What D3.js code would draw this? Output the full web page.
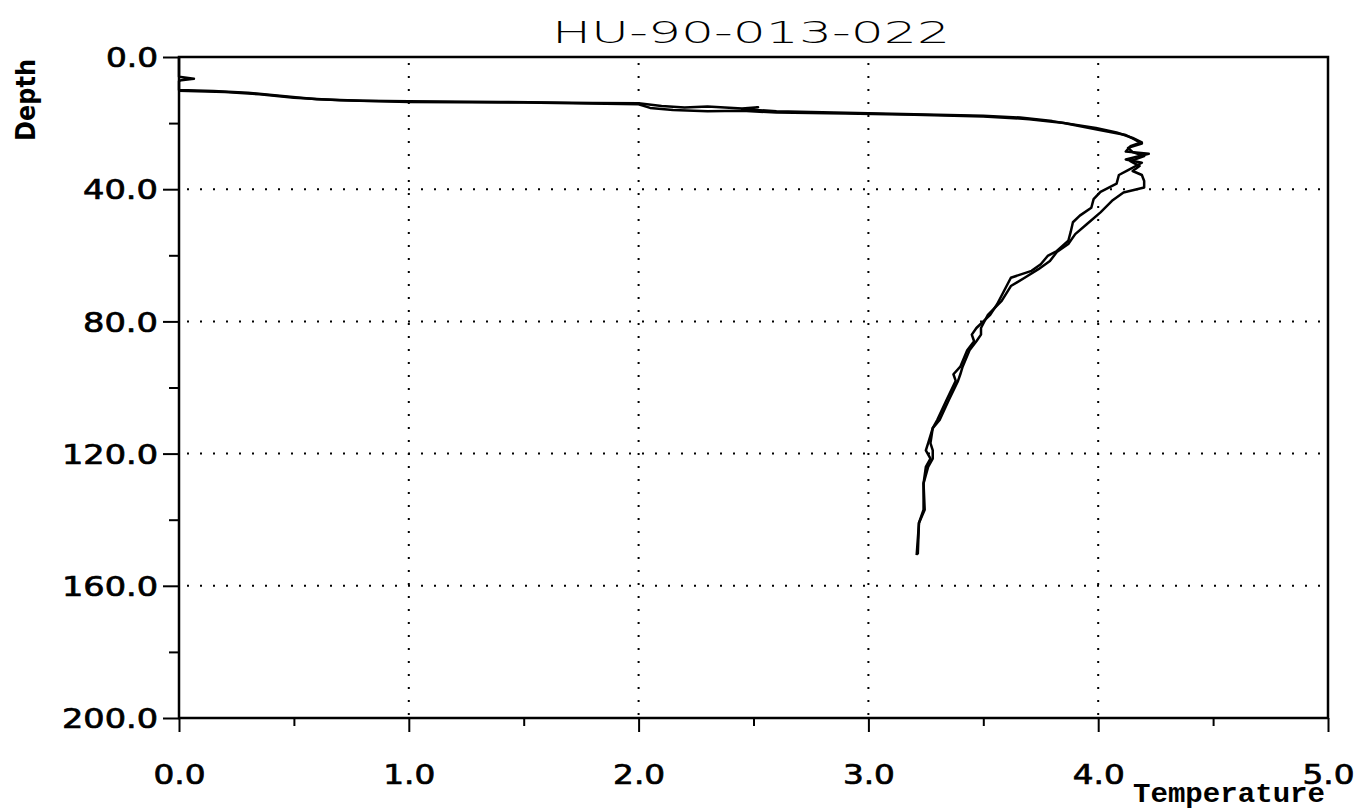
<!DOCTYPE html>
<html>
<head>
<meta charset="utf-8">
<script src="https://cdnjs.cloudflare.com/ajax/libs/d3/7.8.5/d3.min.js"></script>
<style>
    body { margin: 0; background: #fff; }
    svg { display: block; }
</style>
</head>
<body>
<svg id="canvas"></svg>
<script>
"use strict";

const title = "HU-90-013-022";

// Cast 1 (the one with the near-surface blip, left branch below 35 m)
const tempCast1 = [0, 0, 0.065, 0.01, 0, 0, 0.15, 0.3, 0.45, 0.6, 0.8, 1.0, 1.4, 1.8, 2.0, 2.1, 2.2, 2.3, 2.45, 2.52, 2.45, 2.6, 2.9, 3.2, 3.5, 3.66, 3.8, 3.99, 4.08, 4.15, 4.19, 4.14, 4.12, 4.22, 4.12, 4.19, 4.13, 4.09, 4.08, 4.01, 3.98, 3.97, 3.92, 3.89, 3.88, 3.87, 3.82, 3.78, 3.75, 3.71, 3.62, 3.59, 3.56, 3.53, 3.47, 3.45, 3.46, 3.43, 3.40, 3.37, 3.38, 3.34, 3.30, 3.28, 3.26, 3.25, 3.27, 3.25, 3.24, 3.24, 3.22, 3.21];
const depthCast1 = [0, 6, 6.6, 7.0, 7.3, 10, 10.3, 10.8, 11.8, 12.8, 13.2, 13.4, 13.6, 13.9, 14.0, 14.8, 15.3, 15.0, 15.6, 15.2, 15.8, 16.4, 16.9, 17.3, 17.8, 18.3, 19.4, 21.5, 22.8, 24.5, 25.8, 27, 28.6, 29.3, 31, 32, 34.2, 35.7, 38.3, 40.8, 43, 45.6, 48, 50, 53, 55.6, 58.7, 60.2, 62.7, 64.7, 66.8, 70.8, 74.8, 78, 82, 84, 86, 88.7, 93.7, 96, 98, 103.8, 109.8, 112.3, 116.8, 119, 121.5, 124, 129, 137, 141, 150.7];

// Cast 2 (right branch below 35 m)
const tempCast2 = [0, 0.2, 0.35, 0.5, 0.7, 1.0, 1.5, 2.0, 2.05, 2.15, 2.3, 2.45, 2.6, 2.9, 3.2, 3.5, 3.7, 3.85, 4.0, 4.12, 4.16, 4.19, 4.13, 4.15, 4.2, 4.14, 4.18, 4.15, 4.19, 4.2, 4.2, 4.11, 4.06, 4.01, 3.95, 3.90, 3.87, 3.82, 3.79, 3.74, 3.68, 3.62, 3.58, 3.52, 3.49, 3.49, 3.47, 3.44, 3.41, 3.40, 3.39, 3.35, 3.31, 3.28, 3.27, 3.28, 3.28, 3.26, 3.24, 3.245, 3.22, 3.215];
const depthCast2 = [10.2, 10.6, 11.3, 12.3, 13.1, 13.6, 13.8, 14.3, 15.4, 16.0, 16.4, 16.3, 16.8, 17.1, 17.5, 18.0, 18.8, 20, 22, 23.6, 25, 26.2, 27.5, 28.8, 30, 31.5, 33, 34.5, 35.7, 37.5, 39.5, 41, 43.5, 47, 50.6, 53.6, 56.6, 59, 61.7, 64.2, 66.8, 69.3, 73.8, 78, 82, 84, 86, 88.7, 93.7, 96, 98, 103.8, 109.8, 112.3, 116.8, 119, 121.5, 124, 129, 137, 141, 150.5];

const xMajorTicks = [0, 1, 2, 3, 4, 5];
const xMinorTicks = [0.5, 1.5, 2.5, 3.5, 4.5];
const yMajorTicks = [0, 40, 80, 120, 160, 200];
const yMinorTicks = [20, 60, 100, 140, 180];

const width = 1367;
const height = 812;
const plotLeft = 179, plotRight = 1328, plotTop = 57, plotBottom = 718;

const canvas = d3.select('#canvas')
    .attr('width', width)
    .attr('height', height);

const xScale = d3.scaleLinear().domain([0, 5]).range([plotLeft, plotRight]);
const yScale = d3.scaleLinear().domain([0, 200]).range([plotTop, plotBottom]);

// Dotted grid
canvas.selectAll('.vgrid')
    .data(xMajorTicks.slice(1, -1))
    .enter()
    .append('line')
    .attr('x1', (d) => xScale(d))
    .attr('x2', (d) => xScale(d))
    .attr('y1', plotTop + 6)
    .attr('y2', plotBottom)
    .attr('stroke', '#000')
    .attr('stroke-width', 2)
    .attr('stroke-dasharray', '2,11');

canvas.selectAll('.hgrid')
    .data(yMajorTicks.slice(1, -1))
    .enter()
    .append('line')
    .attr('x1', plotLeft + 8)
    .attr('x2', plotRight)
    .attr('y1', (d) => yScale(d))
    .attr('y2', (d) => yScale(d))
    .attr('stroke', '#000')
    .attr('stroke-width', 2)
    .attr('stroke-dasharray', '2,11');

// Frame
canvas.append('rect')
    .attr('x', plotLeft)
    .attr('y', plotTop)
    .attr('width', plotRight - plotLeft)
    .attr('height', plotBottom - plotTop)
    .attr('fill', 'none')
    .attr('stroke', '#000')
    .attr('stroke-width', 2.5);

// Axes: ticks outward
const xAxis = d3.axisBottom(xScale)
    .tickValues(xMajorTicks)
    .tickSize(14)
    .tickFormat(d3.format('.1f'));

const gx = canvas.append('g')
    .attr('transform', `translate(0, ${plotBottom})`)
    .call(xAxis);

canvas.append('g')
    .attr('transform', `translate(0, ${plotBottom})`)
    .call(d3.axisBottom(xScale).tickValues(xMinorTicks).tickSize(8).tickFormat(''))
    .call((g) => g.select('.domain').remove())
    .selectAll('line').attr('stroke-width', 2);

const yAxis = d3.axisLeft(yScale)
    .tickValues(yMajorTicks)
    .tickSize(16)
    .tickFormat(d3.format('.1f'));

const gy = canvas.append('g')
    .attr('transform', `translate(${plotLeft}, 0)`)
    .call(yAxis);

canvas.append('g')
    .attr('transform', `translate(${plotLeft}, 0)`)
    .call(d3.axisLeft(yScale).tickValues(yMinorTicks).tickSize(10).tickFormat(''))
    .call((g) => g.select('.domain').remove())
    .selectAll('line').attr('stroke-width', 2);

// label width grows with number of characters, like the plotter font
const labelWidth = (d) => ({ 3: 52, 4: 75, 5: 96 })[d3.format('.1f')(d).length];

[gx, gy].forEach((g) => {
    g.select('.domain').remove();
    g.selectAll('line').attr('stroke-width', 2);
    g.selectAll('text')
        .attr('font-family', 'DejaVu Sans')
        .attr('font-size', '27px')
        .attr('fill', '#000')
        .attr('stroke', '#000')
        .attr('stroke-width', 0.7)
        .attr('textLength', labelWidth)
        .attr('lengthAdjust', 'spacingAndGlyphs');
});

gx.selectAll('text')
    .attr('y', 47)
    .attr('dy', '0.71em');

gy.selectAll('text')
    .attr('x', -21)
    .attr('dy', '0.36em');

// Profiles
const line = d3.line()
    .x((d) => xScale(d[0]))
    .y((d) => yScale(d[1]));

const cast1 = tempCast1.map((t, i) => [t, depthCast1[i]]);
const cast2 = tempCast2.map((t, i) => [t, depthCast2[i]]);

canvas.selectAll('.cast')
    .data([cast1, cast2])
    .enter()
    .append('path')
    .attr('class', 'cast')
    .attr('d', line)
    .attr('fill', 'none')
    .attr('stroke', '#000')
    .attr('stroke-width', 2.5)
    .attr('stroke-linejoin', 'round');

// Title and axis labels
canvas.append('text')
    .attr('x', 751)
    .attr('y', 43)
    .attr('text-anchor', 'middle')
    .attr('font-family', 'DejaVu Sans')
    .attr('font-weight', 200)
    .attr('font-size', '31px')
    .attr('textLength', 398)
    .attr('lengthAdjust', 'spacingAndGlyphs')
    .text(title);

canvas.append('text')
    .attr('transform', 'translate(35, 100) rotate(-90)')
    .attr('text-anchor', 'middle')
    .attr('font-family', 'DejaVu Sans')
    .attr('font-weight', 'bold')
    .attr('font-size', '27px')
    .attr('textLength', 82)
    .attr('lengthAdjust', 'spacingAndGlyphs')
    .text('Depth');

canvas.append('text')
    .attr('x', 1325)
    .attr('y', 802)
    .attr('text-anchor', 'end')
    .attr('font-family', 'Liberation Mono')
    .attr('font-weight', 'bold')
    .attr('font-size', '27px')
    .attr('textLength', 192)
    .attr('lengthAdjust', 'spacingAndGlyphs')
    .text('Temperature');
</script>
</body>
</html>
